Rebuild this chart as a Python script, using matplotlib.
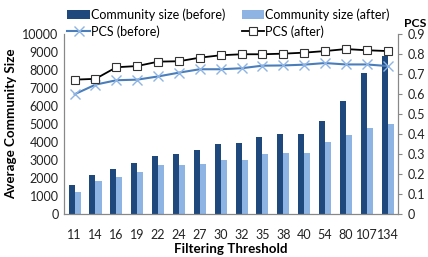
import numpy as np
import matplotlib
matplotlib.use("Agg")
import matplotlib.pyplot as plt

# data
thresholds = ["11", "14", "16", "19", "22", "24", "27", "30", "32", "35", "38", "40", "54", "80", "107", "134"]
size_before = [1600, 2150, 2450, 2800, 3220, 3330, 3520, 3850, 3950, 4270, 4400, 4450, 5170, 6270, 7820, 8750]
size_after = [1180, 1820, 2020, 2320, 2680, 2700, 2780, 2950, 2980, 3310, 3370, 3380, 3980, 4350, 4770, 4990]
pcs_before = [0.597, 0.645, 0.667, 0.670, 0.686, 0.705, 0.722, 0.722, 0.727, 0.740, 0.741, 0.745, 0.753, 0.746, 0.746, 0.738]
pcs_after = [0.670, 0.674, 0.732, 0.738, 0.760, 0.762, 0.780, 0.792, 0.797, 0.797, 0.800, 0.805, 0.813, 0.823, 0.817, 0.813]

plt.rcParams['font.family'] = ['Lato', 'DejaVu Sans']
plt.rcParams['font.size'] = 9

fig = plt.figure(figsize=(4.28, 2.57), dpi=100)
ax = fig.add_axes([0.15, 0.169, 0.78, 0.70])
ax2 = ax.twinx()

x = np.arange(len(thresholds))
w = 0.29
b1 = ax.bar(x - w / 2, size_before, w, color="#1F497D", label="Community size (before)")
b2 = ax.bar(x + w / 2, size_after, w, color="#8DB4E2", label="Community size (after)")
l1, = ax2.plot(x, pcs_before, color="#4A7EBB", lw=1.5, marker="x", ms=6.5,
               mec="#8DB4E2", mew=1.0, label="PCS (before)")
l2, = ax2.plot(x, pcs_after, color="black", lw=1.3, marker="s", ms=5.5,
               mfc="white", mec="#333333", mew=0.8, label="PCS (after)")

ax.set_xlim(-0.5, len(thresholds) - 0.5)
ax.set_ylim(0, 10000)
ax.set_yticks(np.arange(0, 10001, 1000))
ax2.set_ylim(0, 0.9)
ax2.set_yticks(np.arange(0, 0.91, 0.1))
ax2.set_yticklabels(["0"] + ["%.1f" % v for v in np.arange(0.1, 0.91, 0.1)])
ax.set_xticks(x)
ax.set_xticklabels(thresholds)

for a in (ax, ax2):
    a.spines["top"].set_visible(False)
    for s in a.spines.values():
        s.set_color("#888888")
        s.set_linewidth(0.8)
ax.tick_params(axis="y", length=0, pad=4, colors="#222222")
ax.tick_params(axis="x", length=0, pad=11, colors="#222222")
ax2.tick_params(axis="y", length=3, pad=4, colors="#222222")
ax2.tick_params(axis="y", color="#888888")

ax.set_xlabel("Filtering Threshold", fontweight="bold", fontsize=9.6, labelpad=1.5)
ax.set_ylabel("Average Community Size", fontweight="bold", fontsize=9.6, labelpad=4)
fig.text(0.945, 0.886, "PCS", fontweight="bold", fontsize=8.8, ha="left", va="bottom")

fig.legend([b1, l1, b2, l2],
           ["Community size (before)", "PCS (before)", "Community size (after)", "PCS (after)"],
           ncol=2, loc="upper left", bbox_to_anchor=(0.131, 1.01), frameon=False,
           handlelength=1.8, handletextpad=0.1, columnspacing=1.3, labelspacing=0.3,
           fontsize=9.0)

fig.savefig("out.png", dpi=100)
